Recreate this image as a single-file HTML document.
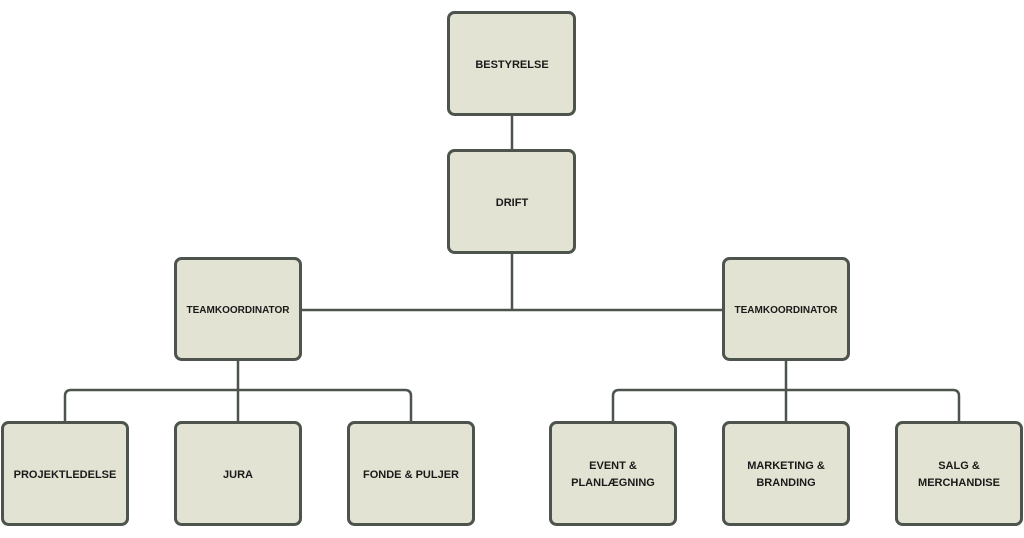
<!DOCTYPE html>
<html><head><meta charset="utf-8"><style>
html,body{margin:0;padding:0;background:#fff;}
svg{display:block;}
text{font-family:"Liberation Sans",sans-serif;font-weight:bold;font-size:11px;fill:#1a1a1a;text-anchor:middle;}
</style></head><body>
<svg width="1024" height="538" viewBox="0 0 1024 538">
<g stroke="#4d534d" stroke-width="2.5" fill="none">
<path d="M512 116V149M512 254V310M302 310H722"/>
<path d="M238 361V421M65 421V396Q65 390 71 390H405Q411 390 411 396V421"/>
<path d="M786 361V421M613 421V396Q613 390 619 390H953Q959 390 959 396V421"/>
</g>
<g fill="#e3e3d3" stroke="#4d534d" stroke-width="3">
<rect x="448.5" y="12.5" width="126" height="102" rx="6"/>
<rect x="448.5" y="150.5" width="126" height="102" rx="6"/>
<rect x="175.5" y="258.5" width="125" height="101" rx="6"/>
<rect x="723.5" y="258.5" width="125" height="101" rx="6"/>
<rect x="2.5" y="422.5" width="125" height="102" rx="6"/>
<rect x="175.5" y="422.5" width="125" height="102" rx="6"/>
<rect x="348.5" y="422.5" width="125" height="102" rx="6"/>
<rect x="550.5" y="422.5" width="125" height="102" rx="6"/>
<rect x="723.5" y="422.5" width="125" height="102" rx="6"/>
<rect x="896.5" y="422.5" width="125" height="102" rx="6"/>
</g>
<text x="512" y="68">BESTYRELSE</text>
<text x="512" y="206">DRIFT</text>
<text x="238" y="313" style="font-size:10px">TEAMKOORDINATOR</text>
<text x="786" y="313" style="font-size:10px">TEAMKOORDINATOR</text>
<text x="65" y="478">PROJEKTLEDELSE</text>
<text x="238" y="478">JURA</text>
<text x="411" y="478">FONDE &amp; PULJER</text>
<text x="613" y="469">EVENT &amp;</text>
<text x="613" y="486">PLANLÆGNING</text>
<text x="786" y="469">MARKETING &amp;</text>
<text x="786" y="486">BRANDING</text>
<text x="959" y="469">SALG &amp;</text>
<text x="959" y="486">MERCHANDISE</text>
</svg>
</body></html>
